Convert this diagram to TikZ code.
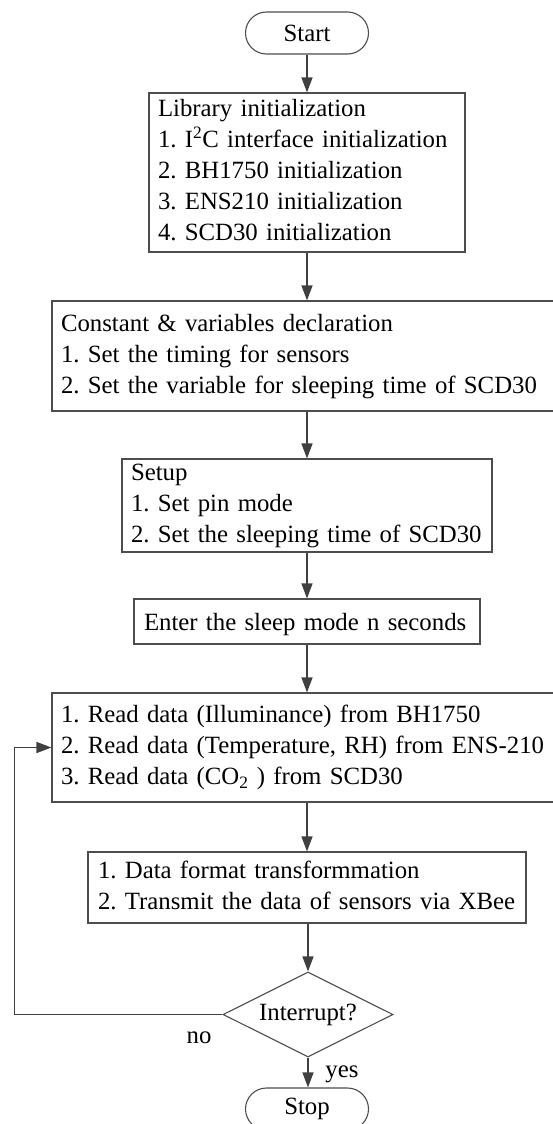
\documentclass[tikz,border=0pt]{standalone}
\usepackage{fontspec}
\setmainfont{Liberation Serif}
\usetikzlibrary{arrows.meta,shapes.geometric}
\definecolor{edgegray}{HTML}{4D4D4D}
\definecolor{arrowgray}{HTML}{404040}
\newcommand{\steplines}[1]{\begin{tabular}{@{}l@{}}#1\end{tabular}}

\begin{document}
\begin{tikzpicture}[x=1pt,y=-1pt,
  every node/.style={font=\fontsize{24.8pt}{31pt}\selectfont, text=black,
    execute at begin node=\frenchspacing},
  box/.style={draw=edgegray, line width=1.1pt, rectangle, inner xsep=9pt, inner ysep=0pt, align=left},
  term/.style={draw=edgegray, line width=1.1pt, rectangle, rounded corners=21pt,
    minimum width=123pt, minimum height=42pt, inner sep=0pt},
  decision/.style={draw=edgegray, line width=1.1pt, diamond, aspect=2, inner sep=0pt,
    minimum width=170pt, minimum height=85pt},
  flow/.style={draw=arrowgray, line width=1.3pt, -{Triangle[length=15pt,width=11pt]}},
  lbl/.style={inner sep=0pt, anchor=base}
]
\useasboundingbox (0,0) rectangle (553,1124);
\clip (0,0) rectangle (553,1124);

% process steps
\node[term] (start) at (307,33) {Start};
\node[box, text width=298pt, minimum height=159pt] (lib) at (307,172.5)
  {\steplines{Library initialization\\
   1. I\textsuperscript{2}C interface initialization\\
   2. BH1750 initialization\\
   3. ENS210 initialization\\
   4. SCD30 initialization}};
\node[box, text width=492pt, minimum height=110pt] (const) at (307,356)
  {\steplines{Constant \& variables declaration\\
   1. Set the timing for sensors\\
   2. Set the variable for sleeping time of SCD30}};
\node[box, text width=352pt, minimum height=93pt] (setup) at (307,505.5)
  {\steplines{Setup\\
   1. Set pin mode\\
   2. Set the sleeping time of SCD30}};
\node[box, inner xsep=10pt, text width=326pt, minimum height=45pt] (enter) at (307,621.5)
  {\steplines{\raisebox{-3pt}{Enter the sleep mode n seconds}}};
\node[box, text width=492pt, minimum height=109pt] (read) at (307,747.5)
  {\steplines{1. Read data (Illuminance) from BH1750\\
   2. Read data (Temperature, RH) from ENS-210\\
   3. Read data (CO\textsubscript{2} ) from SCD30}};
\node[box, inner xsep=10pt, text width=418pt, minimum height=71pt] (data) at (307,887.5)
  {\steplines{1. Data format transformmation\\
   2. Transmit the data of sensors via XBee}};
\node[decision] (dec) at (308,1014.5) {Interrupt?};
\node[term] (stop) at (307,1109) {Stop};

% connectors
\draw[flow] (start) -- (lib);
\draw[flow] (lib) -- (const);
\draw[flow] (const) -- (setup);
\draw[flow] (setup) -- (enter);
\draw[flow] (enter) -- (read);
\draw[flow] (read) -- (data);
\draw[flow] (data.south -| dec.north) -- (dec.north);
\draw[flow] (dec.south) -- (stop.north -| dec.south);
\draw[flow] (dec.west) -| ([xshift=-37pt]read.west) -- (read.west);

% branch labels
\node[lbl] (nolbl) at (199,1043) {no};
\node[lbl] (yeslbl) at (342,1077) {yes};
\end{tikzpicture}
\end{document}
